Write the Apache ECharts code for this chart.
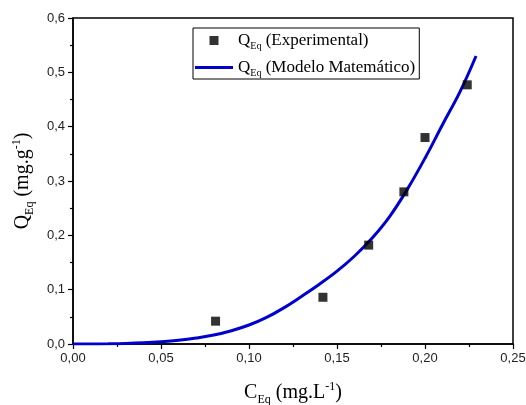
<!DOCTYPE html>
<html>
<head>
<meta charset="utf-8">
<script src="https://cdn.jsdelivr.net/npm/echarts@6/dist/echarts.min.js"></script>
<style>
  html, body { margin: 0; padding: 0; background: #fff; }
  #chart { width: 526px; height: 405px; }
</style>
</head>
<body>
<div id="chart"></div>
<script>
// pontos experimentais (C_Eq, Q_Eq)
var expX = [0.081, 0.142, 0.168, 0.188, 0.200, 0.224];
var expY = [0.042, 0.086, 0.182, 0.280, 0.380, 0.477];

// curva do modelo
var modelX = [0, 0.01, 0.02, 0.03, 0.04, 0.05, 0.06, 0.07, 0.08, 0.09, 0.10, 0.11, 0.12, 0.13, 0.14, 0.15, 0.16, 0.17, 0.18, 0.19, 0.20, 0.21, 0.22, 0.229];
var modelY = [0, 0.00005, 0.0003, 0.0009, 0.0021, 0.004, 0.0068, 0.011, 0.0165, 0.0245, 0.035, 0.049, 0.067, 0.088, 0.110, 0.134, 0.162, 0.195, 0.235, 0.285, 0.342, 0.404, 0.465, 0.530];

var xTicks = [0, 0.25, 0.05];
var yTicks = [0, 0.6, 0.1];

var serif = '"Liberation Serif", "Times New Roman", serif';
var sans = '"Liberation Sans", Arial, sans-serif';

var rich = {
  m: { fontFamily: serif, fontSize: 20, color: '#000' },
  s: { fontFamily: serif, fontSize: 12, color: '#000', padding: [14, 0, 0, 0] },
  p: { fontFamily: serif, fontSize: 12, color: '#000', padding: [0, 0, 12, 0] }
};
var legRich = {
  m: { fontFamily: serif, fontSize: 17, color: '#000' },
  s: { fontFamily: serif, fontSize: 10, color: '#000', padding: [11, 0, 0, 0] }
};

var chart = echarts.init(document.getElementById('chart'));
chart.setOption({
  animation: false,
  grid: {
    left: 73, right: 13, top: 18, bottom: 61,
    outerBoundsMode: 'none',
    show: true, borderColor: '#000', borderWidth: 1.5
  },
  legend: {
    left: 193, top: 28,
    orient: 'vertical',
    itemGap: 8,
    itemWidth: 38,
    itemHeight: 9,
    symbolKeepAspect: true,
    padding: [4, 4, 1, 2],
    borderColor: '#000',
    borderWidth: 1,
    borderRadius: 0,
    data: [
      { name: 'exp', icon: 'path://M0,0h10v10h-10z' },
      { name: 'modelo', icon: 'path://M0,0h38v3h-38z' }
    ],
    formatter: function (n) {
      return n === 'exp' ? '{m|Q}{s|Eq}{m| (Experimental)}' : '{m|Q}{s|Eq}{m| (Modelo Matemático)}';
    },
    textStyle: { rich: legRich }
  },
  xAxis: {
    type: 'value',
    min: xTicks[0], max: xTicks[1], interval: xTicks[2],
    name: '{m|C}{s|Eq}{m| (mg.L}{p|-1}{m|)}',
    nameLocation: 'middle', nameGap: 36,
    nameTextStyle: { rich: rich },
    axisLine: { lineStyle: { color: '#000', width: 1.5 } },
    axisTick: { show: true, inside: false, length: 5, lineStyle: { color: '#000', width: 1.2 } },
    minorTick: { show: true, splitNumber: 2, length: 3, lineStyle: { color: '#000', width: 1.2 } },
    splitLine: { show: false },
    axisLabel: {
      margin: 8, color: '#222', fontFamily: sans, fontSize: 13,
      formatter: function (v) { return v.toFixed(2).replace('.', ','); }
    }
  },
  yAxis: {
    type: 'value',
    min: yTicks[0], max: yTicks[1], interval: yTicks[2],
    name: '{m|Q}{s|Eq}{m| (mg.g}{p|-1}{m|)}',
    nameLocation: 'middle', nameGap: 37, nameRotate: 90,
    nameTextStyle: { rich: rich },
    axisLine: { show: true, lineStyle: { color: '#000', width: 1.5 } },
    axisTick: { show: true, inside: false, length: 5, lineStyle: { color: '#000', width: 1.2 } },
    minorTick: { show: true, splitNumber: 2, length: 3, lineStyle: { color: '#000', width: 1.2 } },
    splitLine: { show: false },
    axisLabel: {
      margin: 8, color: '#222', fontFamily: sans, fontSize: 13,
      formatter: function (v) { return v.toFixed(1).replace('.', ','); }
    }
  },
  series: [
    {
      name: 'exp', type: 'scatter', symbol: 'rect', symbolSize: 9,
      itemStyle: { color: '#000' },
      data: expX.map(function (x, i) { return [x, expY[i]]; }),
      z: 3
    },
    {
      name: 'modelo', type: 'line', smooth: 0.4, showSymbol: false, symbol: 'none',
      lineStyle: { color: '#0000cc', width: 3 },
      itemStyle: { color: '#0000cc' },
      data: modelX.map(function (x, i) { return [x, modelY[i]]; }),
      z: 2
    }
  ]
});
</script>
</body>
</html>
